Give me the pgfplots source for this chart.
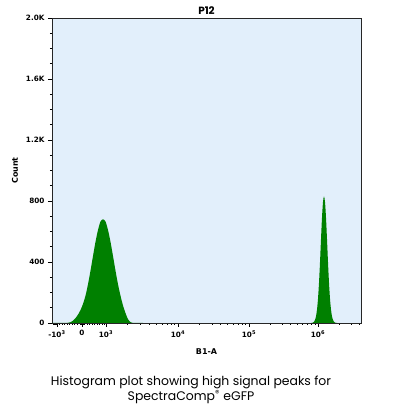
\documentclass[border=0pt]{standalone}
\usepackage{fontspec}
\setmainfont{Poppins}
\newfontfamily\dv{DejaVu Sans}
\usepackage{pgfplots}
\pgfplotsset{compat=1.18}
\definecolor{bgblue}{HTML}{E2EFFB}
\definecolor{peakgreen}{HTML}{008000}
\begin{document}
\begin{tikzpicture}[x=1bp,y=1bp]
\useasboundingbox (0,0) rectangle (398,413);
\begin{axis}[at={(52bp,90bp)}, anchor=south west, scale only axis,
  width=309bp, height=305bp,
  xmin=52, xmax=361, ymin=0, ymax=2000,
  axis background/.style={fill=bgblue},
  axis line style={black!85, line width=0.6pt},
  tick align=outside, tick pos=left,
  xtick={57,82,106,178,249,318},
  xticklabels={-10\textsuperscript{3},0,10\textsuperscript{3},10\textsuperscript{4},10\textsuperscript{5},10\textsuperscript{6}},
  minor xtick={53,54,55,56,59.5,62,64.5,67,69.5,72,74.5,77,80,81,83,84,87,89.5,92,94.5,97,99.5,102,104.5,
    127.7,140.3,149.3,156.3,162.0,166.8,171.0,174.7,
    199.4,211.9,220.7,227.6,233.2,238.0,242.1,245.7,
    269.8,281.9,290.5,297.2,302.7,307.3,311.3,314.8,
    338.8,350.9,359.5},
  ytick={0,400,800,1200,1600,2000},
  yticklabels={0,400,800,1.2K,1.6K,2.0K},
  minor ytick={100,200,300,500,600,700,900,1000,1100,1300,1400,1500,1700,1800,1900},
  tick label style={font=\dv\bfseries\fontsize{7.3}{8}\selectfont},
  major tick length=4bp, minor tick length=2bp,
  tick style={black, line width=0.6pt},
  title={P12},
  every axis title shift=0pt,
  title style={font=\bfseries\fontsize{10.5}{11}\selectfont, at={(axis description cs:0.5,1)}, anchor=base, yshift=3bp},
  xlabel={B1-A},
  xlabel style={font=\dv\bfseries\fontsize{8}{9}\selectfont, at={(axis description cs:0.5,-0.095)}, anchor=center},
  ylabel={Count},
  ylabel style={font=\dv\bfseries\fontsize{8}{9}\selectfont, at={(axis description cs:-0.12,0.5)}, anchor=center},
]
\addplot[fill=peakgreen, draw=none, smooth] coordinates {
(52,0)(66,0)(68,2)(70.5,5)(73,15)(75.5,32)(78,55)(80.5,85)
(83,125)(85.5,179)(88,254)(90.5,343)(93,439)(95.5,532)(98,610)(100.5,665)(103,680)
(105.5,665)(108,610)(110.5,532)(113,439)(115.5,343)(118,254)(120.5,179)(123,115)
(125.5,65)(128,25)(130.5,6)(133,0)(143,0)} \closedcycle;
\addplot[fill=peakgreen, draw=none, smooth] coordinates {
(311,0)(312,1)(313,3)(314,8)(315,20)(316,44)(317,88)(318,159)(319,264)(320,398)(321,549)(322,691)
(323,793)(324,830)(325,793)(326,691)(327,549)(328,398)(329,264)(330,159)(331,88)(332,44)
(333,20)(334,8)(335,3)(336,1)(337,0)} \closedcycle;
\end{axis}
\node[align=center, font=\fontsize{12.5}{15}\selectfont] at (191,23) {Histogram plot showing high signal peaks for\\SpectraComp\textsuperscript{\textregistered} eGFP};
\end{tikzpicture}
\end{document}
